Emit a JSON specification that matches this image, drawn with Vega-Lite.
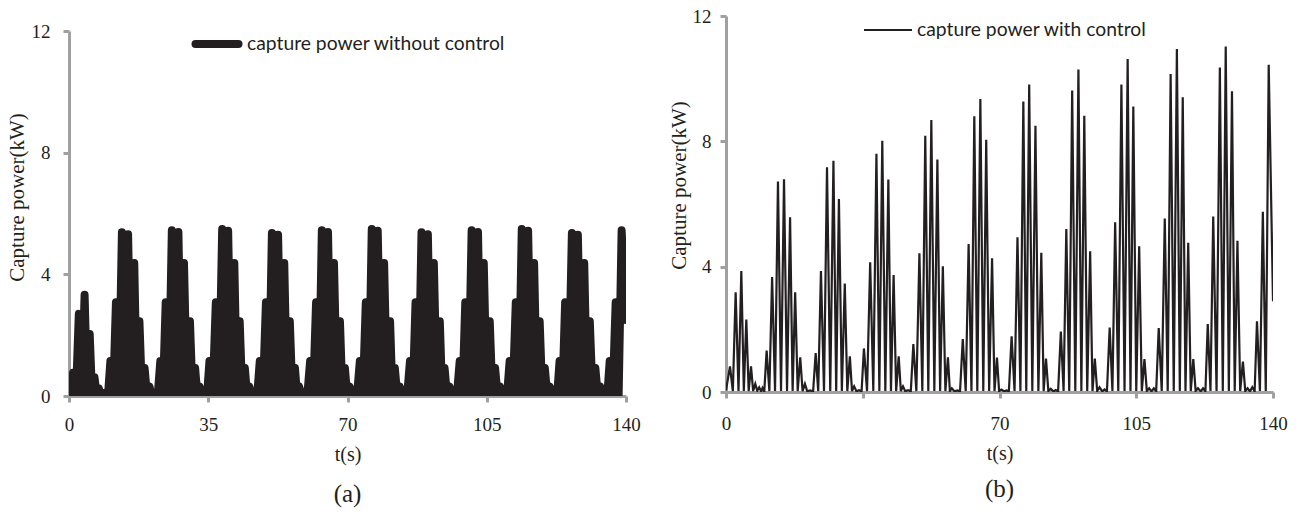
{
  "$schema": "https://vega.github.io/schema/vega-lite/v6.json",
  "background": "white",
  "padding": {"left": 6, "top": 5, "right": 5, "bottom": 5},
  "config": {
    "view": {"stroke": null},
    "font": "Liberation Serif",
    "axis": {"domainColor": "#a0a0a0", "domainWidth": 3, "tickColor": "#a0a0a0", "tickWidth": 3, "tickSize": 6, "labelFlush": false, "labelFont": "Liberation Serif", "labelFontSize": 19, "labelColor": "#231f20", "titleFont": "Liberation Serif", "titleFontSize": 21, "titleFontWeight": "normal", "titleColor": "#231f20", "grid": false, "zindex": 1},
    "title": {"font": "Liberation Serif", "fontWeight": "normal", "fontSize": 25, "color": "#231f20"}
  },
  "datasets": {
    "a": [
      {"t":0,"p":0.05},{"t":1.02,"p":0.76},{"t":1.75,"p":0.03},{"t":2.47,"p":2.7},{"t":3.2,"p":0.03},{"t":3.92,"p":3.33},{"t":4.56,"p":0.03},{"t":5.2,"p":2.04},{"t":5.8,"p":0.03},{"t":6.4,"p":0.62},{"t":6.95,"p":0.03},{"t":7.5,"p":0.25},{"t":8.0,"p":0.03},{"t":8.5,"p":0.1},{"t":9.0,"p":0.02},{"t":9.35,"p":0.05},{"t":9.8,"p":0.02},
      {"t":10.4,"p":1.15},{"t":11.1,"p":0.03},{"t":11.8,"p":3.08},{"t":12.55,"p":0.03},{"t":13.3,"p":5.38},{"t":14.08,"p":0.03},{"t":14.85,"p":5.32},{"t":15.62,"p":0.03},{"t":16.4,"p":4.37},{"t":17.05,"p":0.03},{"t":17.7,"p":2.46},{"t":18.35,"p":0.03},{"t":19.0,"p":0.92},{"t":19.6,"p":0.03},{"t":20.2,"p":0.32},{"t":20.8,"p":0.02},{"t":21.5,"p":0.05},{"t":22.3,"p":0.02},
      {"t":22.95,"p":1.15},{"t":23.6,"p":0.03},{"t":24.3,"p":3.08},{"t":25.08,"p":0.03},{"t":25.85,"p":5.45},{"t":26.68,"p":0.03},{"t":27.5,"p":5.39},{"t":28.2,"p":0.03},{"t":28.9,"p":4.37},{"t":29.65,"p":0.03},{"t":30.4,"p":2.46},{"t":31.05,"p":0.03},{"t":31.7,"p":0.92},{"t":32.25,"p":0.03},{"t":32.8,"p":0.32},{"t":33.4,"p":0.02},{"t":34.0,"p":0.05},{"t":34.7,"p":0.02},
      {"t":35.3,"p":1.15},{"t":36.1,"p":0.03},{"t":36.9,"p":3.08},{"t":37.7,"p":0.03},{"t":38.5,"p":5.49},{"t":39.25,"p":0.03},{"t":40.0,"p":5.43},{"t":40.78,"p":0.03},{"t":41.55,"p":4.37},{"t":42.22,"p":0.03},{"t":42.9,"p":2.46},{"t":43.55,"p":0.03},{"t":44.2,"p":0.92},{"t":44.75,"p":0.03},{"t":45.3,"p":0.32},{"t":45.9,"p":0.02},{"t":46.6,"p":0.05},{"t":47.3,"p":0.02},
      {"t":47.95,"p":1.15},{"t":48.72,"p":0.03},{"t":49.5,"p":3.08},{"t":50.25,"p":0.03},{"t":51.0,"p":5.36},{"t":51.78,"p":0.03},{"t":52.55,"p":5.3},{"t":53.32,"p":0.03},{"t":54.1,"p":4.37},{"t":54.8,"p":0.03},{"t":55.5,"p":2.46},{"t":56.15,"p":0.03},{"t":56.8,"p":0.92},{"t":57.3,"p":0.03},{"t":57.8,"p":0.32},{"t":58.5,"p":0.02},{"t":59.2,"p":0.05},{"t":59.9,"p":0.02},
      {"t":60.6,"p":1.15},{"t":61.35,"p":0.03},{"t":62.1,"p":3.08},{"t":62.82,"p":0.03},{"t":63.55,"p":5.45},{"t":64.32,"p":0.03},{"t":65.1,"p":5.39},{"t":65.85,"p":0.03},{"t":66.6,"p":4.37},{"t":67.35,"p":0.03},{"t":68.1,"p":2.46},{"t":68.72,"p":0.03},{"t":69.35,"p":0.92},{"t":69.9,"p":0.03},{"t":70.5,"p":0.32},{"t":71.2,"p":0.02},{"t":71.8,"p":0.05},{"t":72.4,"p":0.02},
      {"t":73.1,"p":1.15},{"t":73.85,"p":0.03},{"t":74.6,"p":3.08},{"t":75.35,"p":0.03},{"t":76.1,"p":5.49},{"t":76.85,"p":0.03},{"t":77.6,"p":5.43},{"t":78.4,"p":0.03},{"t":79.2,"p":4.37},{"t":79.95,"p":0.03},{"t":80.7,"p":2.46},{"t":81.3,"p":0.03},{"t":81.9,"p":0.92},{"t":82.5,"p":0.03},{"t":83.1,"p":0.32},{"t":83.8,"p":0.02},{"t":84.4,"p":0.05},{"t":85.0,"p":0.02},
      {"t":85.7,"p":1.15},{"t":86.4,"p":0.03},{"t":87.1,"p":3.08},{"t":87.85,"p":0.03},{"t":88.6,"p":5.38},{"t":89.4,"p":0.03},{"t":90.2,"p":5.32},{"t":90.95,"p":0.03},{"t":91.7,"p":4.37},{"t":92.45,"p":0.03},{"t":93.2,"p":2.46},{"t":93.8,"p":0.03},{"t":94.4,"p":0.92},{"t":95.0,"p":0.03},{"t":95.6,"p":0.32},{"t":96.3,"p":0.02},{"t":96.9,"p":0.05},{"t":97.5,"p":0.02},
      {"t":98.2,"p":1.15},{"t":98.9,"p":0.03},{"t":99.6,"p":3.08},{"t":100.4,"p":0.03},{"t":101.2,"p":5.45},{"t":102.0,"p":0.03},{"t":102.8,"p":5.39},{"t":103.52,"p":0.03},{"t":104.25,"p":4.37},{"t":105.0,"p":0.03},{"t":105.75,"p":2.46},{"t":106.42,"p":0.03},{"t":107.1,"p":0.92},{"t":107.7,"p":0.03},{"t":108.3,"p":0.32},{"t":108.9,"p":0.02},{"t":109.5,"p":0.05},{"t":110.1,"p":0.02},
      {"t":110.75,"p":1.15},{"t":111.52,"p":0.03},{"t":112.3,"p":3.08},{"t":113.05,"p":0.03},{"t":113.8,"p":5.49},{"t":114.6,"p":0.03},{"t":115.4,"p":5.43},{"t":116.15,"p":0.03},{"t":116.9,"p":4.37},{"t":117.6,"p":0.03},{"t":118.3,"p":2.46},{"t":118.95,"p":0.03},{"t":119.6,"p":0.92},{"t":120.2,"p":0.03},{"t":120.8,"p":0.32},{"t":121.5,"p":0.02},{"t":122.1,"p":0.05},{"t":122.7,"p":0.02},
      {"t":123.3,"p":1.15},{"t":124.0,"p":0.03},{"t":124.7,"p":3.08},{"t":125.55,"p":0.03},{"t":126.4,"p":5.36},{"t":127.15,"p":0.03},{"t":127.9,"p":5.3},{"t":128.7,"p":0.03},{"t":129.5,"p":4.37},{"t":130.2,"p":0.03},{"t":130.9,"p":2.46},{"t":131.6,"p":0.03},{"t":132.3,"p":0.92},{"t":132.9,"p":0.03},{"t":133.5,"p":0.32},{"t":134.1,"p":0.02},{"t":134.7,"p":0.05},{"t":135.3,"p":0.02},
      {"t":135.9,"p":1.15},{"t":136.65,"p":0.03},{"t":137.4,"p":3.08},{"t":138.15,"p":0.03},{"t":138.9,"p":5.45},{"t":140,"p":2.5}
    ],
    "b": [
      {"t":0,"p":0.05},{"t":1.02,"p":0.82},{"t":1.75,"p":0.03},{"t":2.47,"p":3.18},{"t":3.2,"p":0.03},{"t":3.92,"p":3.86},{"t":4.56,"p":0.03},{"t":5.2,"p":2.31},{"t":5.8,"p":0.03},{"t":6.4,"p":0.82},{"t":6.95,"p":0.03},{"t":7.5,"p":0.26},{"t":8.0,"p":0.04},{"t":8.5,"p":0.15},{"t":9.0,"p":0.02},{"t":9.35,"p":0.13},{"t":9.8,"p":0.02},
      {"t":10.4,"p":1.32},{"t":11.1,"p":0.03},{"t":11.8,"p":3.67},{"t":12.55,"p":0.03},{"t":13.3,"p":6.72},{"t":14.08,"p":0.03},{"t":14.85,"p":6.79},{"t":15.62,"p":0.03},{"t":16.4,"p":5.58},{"t":17.05,"p":0.03},{"t":17.7,"p":3.18},{"t":18.35,"p":0.03},{"t":19.0,"p":1.11},{"t":19.6,"p":0.03},{"t":20.2,"p":0.26},{"t":20.8,"p":0.02},{"t":21.5,"p":0.05},{"t":22.3,"p":0.02},
      {"t":22.95,"p":1.24},{"t":23.6,"p":0.03},{"t":24.3,"p":3.86},{"t":25.08,"p":0.03},{"t":25.85,"p":7.17},{"t":26.68,"p":0.03},{"t":27.5,"p":7.38},{"t":28.2,"p":0.03},{"t":28.9,"p":6.16},{"t":29.65,"p":0.03},{"t":30.4,"p":3.46},{"t":31.05,"p":0.03},{"t":31.7,"p":1.14},{"t":32.25,"p":0.03},{"t":32.8,"p":0.18},{"t":33.4,"p":0.02},{"t":34.0,"p":0.06},{"t":34.7,"p":0.02},
      {"t":35.3,"p":1.39},{"t":36.1,"p":0.03},{"t":36.9,"p":4.14},{"t":37.7,"p":0.03},{"t":38.5,"p":7.6},{"t":39.25,"p":0.03},{"t":40.0,"p":8.02},{"t":40.78,"p":0.03},{"t":41.55,"p":6.78},{"t":42.22,"p":0.03},{"t":42.9,"p":3.73},{"t":43.55,"p":0.03},{"t":44.2,"p":1.14},{"t":44.75,"p":0.03},{"t":45.3,"p":0.18},{"t":45.9,"p":0.02},{"t":46.6,"p":0.06},{"t":47.3,"p":0.02},
      {"t":47.95,"p":1.53},{"t":48.72,"p":0.03},{"t":49.5,"p":4.43},{"t":50.25,"p":0.03},{"t":51.0,"p":8.18},{"t":51.78,"p":0.03},{"t":52.55,"p":8.68},{"t":53.32,"p":0.03},{"t":54.1,"p":7.42},{"t":54.8,"p":0.03},{"t":55.5,"p":4.01},{"t":56.15,"p":0.03},{"t":56.8,"p":1.11},{"t":57.3,"p":0.03},{"t":57.8,"p":0.12},{"t":58.5,"p":0.02},{"t":59.2,"p":0.05},{"t":59.9,"p":0.02},
      {"t":60.6,"p":1.69},{"t":61.35,"p":0.03},{"t":62.1,"p":4.72},{"t":62.82,"p":0.03},{"t":63.55,"p":8.8},{"t":64.32,"p":0.03},{"t":65.1,"p":9.35},{"t":65.85,"p":0.03},{"t":66.6,"p":8.05},{"t":67.35,"p":0.03},{"t":68.1,"p":4.27},{"t":68.72,"p":0.03},{"t":69.35,"p":1.1},{"t":69.9,"p":0.03},{"t":70.5,"p":0.08},{"t":71.2,"p":0.02},{"t":71.8,"p":0.05},{"t":72.4,"p":0.02},
      {"t":73.1,"p":1.78},{"t":73.85,"p":0.03},{"t":74.6,"p":4.94},{"t":75.35,"p":0.03},{"t":76.1,"p":9.27},{"t":76.85,"p":0.03},{"t":77.6,"p":9.81},{"t":78.4,"p":0.03},{"t":79.2,"p":8.5},{"t":79.95,"p":0.03},{"t":80.7,"p":4.44},{"t":81.3,"p":0.03},{"t":81.9,"p":1.07},{"t":82.5,"p":0.03},{"t":83.1,"p":0.1},{"t":83.8,"p":0.02},{"t":84.4,"p":0.06},{"t":85.0,"p":0.02},
      {"t":85.7,"p":1.93},{"t":86.4,"p":0.03},{"t":87.1,"p":5.2},{"t":87.85,"p":0.03},{"t":88.6,"p":9.62},{"t":89.4,"p":0.03},{"t":90.2,"p":10.29},{"t":90.95,"p":0.03},{"t":91.7,"p":8.82},{"t":92.45,"p":0.03},{"t":93.2,"p":4.49},{"t":93.8,"p":0.03},{"t":94.4,"p":1.07},{"t":95.0,"p":0.03},{"t":95.6,"p":0.15},{"t":96.3,"p":0.02},{"t":96.9,"p":0.08},{"t":97.5,"p":0.02},
      {"t":98.2,"p":2.06},{"t":98.9,"p":0.03},{"t":99.6,"p":5.42},{"t":100.4,"p":0.03},{"t":101.2,"p":9.81},{"t":102.0,"p":0.03},{"t":102.8,"p":10.63},{"t":103.52,"p":0.03},{"t":104.25,"p":9.11},{"t":105.0,"p":0.03},{"t":105.75,"p":4.65},{"t":106.42,"p":0.03},{"t":107.1,"p":1.05},{"t":107.7,"p":0.03},{"t":108.3,"p":0.12},{"t":108.9,"p":0.02},{"t":109.5,"p":0.12},{"t":110.1,"p":0.02},
      {"t":110.75,"p":2.04},{"t":111.52,"p":0.03},{"t":112.3,"p":5.54},{"t":113.05,"p":0.03},{"t":113.8,"p":10.15},{"t":114.6,"p":0.03},{"t":115.4,"p":10.95},{"t":116.15,"p":0.03},{"t":116.9,"p":9.41},{"t":117.6,"p":0.03},{"t":118.3,"p":4.76},{"t":118.95,"p":0.03},{"t":119.6,"p":1.05},{"t":120.2,"p":0.03},{"t":120.8,"p":0.12},{"t":121.5,"p":0.02},{"t":122.1,"p":0.12},{"t":122.7,"p":0.02},
      {"t":123.3,"p":2.17},{"t":124.0,"p":0.03},{"t":124.7,"p":5.6},{"t":125.55,"p":0.03},{"t":126.4,"p":10.36},{"t":127.15,"p":0.03},{"t":127.9,"p":11.03},{"t":128.7,"p":0.03},{"t":129.5,"p":9.6},{"t":130.2,"p":0.03},{"t":130.9,"p":4.83},{"t":131.6,"p":0.03},{"t":132.3,"p":0.97},{"t":132.9,"p":0.03},{"t":133.5,"p":0.12},{"t":134.1,"p":0.02},{"t":134.7,"p":0.15},{"t":135.3,"p":0.02},
      {"t":135.9,"p":2.26},{"t":136.65,"p":0.03},{"t":137.4,"p":5.75},{"t":138.15,"p":0.03},{"t":138.9,"p":10.44},{"t":140,"p":2.9}
    ]
  },
  "spacing": 27,
  "hconcat": [
    {
      "spacing": 0,
      "bounds": "flush",
      "vconcat": [
        {"width": 557, "height": 15, "data": {"values": []}, "mark": "point"},
        {
          "width": 557,
          "height": 365,
          "title": {"text": "(a)", "orient": "bottom", "offset": 18},
          "data": {"name": "a"},
          "mark": {"type": "line", "strokeWidth": 8, "strokeJoin": "round", "strokeCap": "round", "clip": true},
          "encoding": {
            "x": {"field": "t", "type": "quantitative", "scale": {"domain": [0, 140], "nice": false},
                  "axis": {"values": [0, 35, 70, 105, 140], "title": "t(s)", "titleFontSize": 20, "labelPadding": 13, "titlePadding": 10}},
            "y": {"field": "p", "type": "quantitative", "scale": {"domain": [0, 12], "nice": false},
                  "axis": {"values": [0, 4, 8, 12], "title": "Capture power(kW)", "labelPadding": 13, "titlePadding": 4, "titleY": 166}},
            "color": {"datum": "capture power without control", "scale": {"range": ["#231f20"]},
                      "legend": {"orient": "none", "legendX": 122, "legendY": 2, "title": null, "symbolType": "stroke", "symbolSize": 1850, "symbolStrokeWidth": 8, "labelFont": "Lato", "labelFontSize": 19.3, "labelLimit": 500, "labelColor": "#231f20", "labelOffset": 4,
                                 "encode": {"symbols": {"update": {"strokeCap": {"value": "round"}}}}}}
          }
        }
      ]
    },
    {
      "width": 547,
      "height": 376,
      "title": {"text": "(b)", "orient": "bottom", "offset": 14},
      "data": {"name": "b"},
      "mark": {"type": "line", "strokeWidth": 2.2, "clip": true},
      "encoding": {
        "x": {"field": "t", "type": "quantitative", "scale": {"domain": [0, 140], "nice": false},
              "axis": {"values": [0, 35, 70, 105, 140], "labelExpr": "datum.value == 35 ? '' : datum.label", "title": "t(s)", "titleFontSize": 20, "labelPadding": 16, "titlePadding": 10}},
        "y": {"field": "p", "type": "quantitative", "scale": {"domain": [0, 12], "nice": false},
              "axis": {"values": [0, 4, 8, 12], "title": "Capture power(kW)", "labelPadding": 9, "titlePadding": 3, "titleY": 169}},
        "color": {"datum": "capture power with control", "scale": {"range": ["#231f20"]},
                  "legend": {"orient": "none", "legendX": 137, "legendY": -11, "title": null, "symbolType": "stroke", "symbolSize": 2304, "symbolStrokeWidth": 2, "labelFont": "Lato", "labelFontSize": 19.3, "labelLimit": 500, "labelColor": "#231f20", "labelOffset": 4}}
      }
    }
  ],
  "resolve": {"scale": {"color": "independent"}, "legend": {"color": "independent"}}
}
